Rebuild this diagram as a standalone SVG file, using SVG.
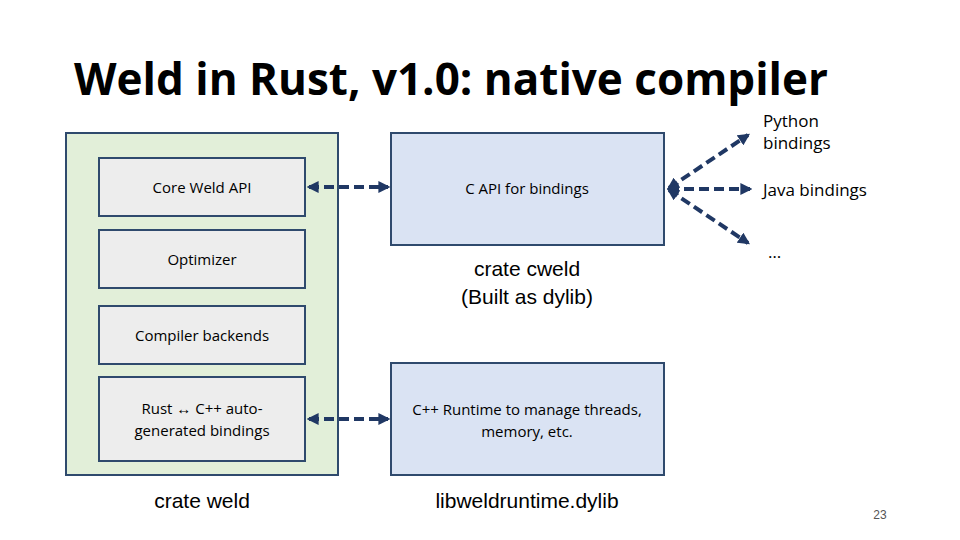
<svg xmlns="http://www.w3.org/2000/svg" width="960" height="540" viewBox="0 0 960 540">
<defs>
<style>
.g{fill:#e2efd9;stroke:#2f4a6d;stroke-width:2}
.i{fill:#ededed;stroke:#2f4a6d;stroke-width:2}
.b{fill:#dae3f3;stroke:#2f4a6d;stroke-width:2}
.t{font-family:"Open Sans","Liberation Sans",sans-serif;font-size:15px;fill:#000;text-anchor:middle}
.l{font-family:"Liberation Sans",sans-serif;font-size:21px;fill:#000;text-anchor:middle}
.c{stroke:#203864;stroke-width:4;stroke-dasharray:10,5;fill:none;marker-end:url(#a);marker-start:url(#s)}
</style>
<marker id="a" viewBox="0 0 10 10" refX="8" refY="5" markerWidth="3" markerHeight="3" orient="auto"><path d="M0,0L10,5L0,10z" fill="#203864"/></marker>
<marker id="s" viewBox="0 0 10 10" refX="2" refY="5" markerWidth="3" markerHeight="3" orient="auto"><path d="M10,0L0,5L10,10z" fill="#203864"/></marker>
</defs>
<text x="74" y="95" font-family="Open Sans,Liberation Sans,sans-serif" font-size="44" font-weight="bold" fill="#000">Weld in Rust, v1.0: native compiler</text>
<g id="weld"><rect class="g" x="66" y="133" width="272" height="342"/><text class="l" x="202" y="508">crate weld</text></g>
<g id="core"><rect class="i" x="99" y="158" width="206" height="58"/><text class="t" x="202" y="193">Core Weld API</text></g>
<g id="opt"><rect class="i" x="99" y="230" width="206" height="58"/><text class="t" x="202" y="265">Optimizer</text></g>
<g id="backends"><rect class="i" x="99" y="306" width="206" height="58"/><text class="t" x="202" y="341">Compiler backends</text></g>
<g id="bind"><rect class="i" x="99" y="377" width="206" height="84"/><text class="t" x="202" y="414">Rust ↔ C++ auto-</text><text class="t" x="202" y="436">generated bindings</text></g>
<g id="capi"><rect class="b" x="391" y="133" width="273" height="112"/><text class="t" x="527" y="194">C API for bindings</text><text class="l" x="527" y="276">crate cweld</text><text class="l" x="527" y="304">(Built as dylib)</text></g>
<g id="rt"><rect class="b" x="391" y="363" width="273" height="112"/><text class="t" x="527" y="415">C++ Runtime to manage threads,</text><text class="t" x="527" y="437">memory, etc.</text><text class="l" x="527" y="508">libweldruntime.dylib</text></g>
<g id="py"><text x="763" y="127" font-family="Open Sans,Liberation Sans,sans-serif" font-size="17">Python</text><text x="763" y="149" font-family="Open Sans,Liberation Sans,sans-serif" font-size="17">bindings</text></g>
<g id="java"><text x="763" y="196" font-family="Open Sans,Liberation Sans,sans-serif" font-size="17">Java bindings</text></g>
<g id="etc"><text x="768" y="258" font-family="Open Sans,Liberation Sans,sans-serif" font-size="17">…</text></g>
<g id="connectors">
<line class="c" x1="309" y1="187" x2="388" y2="187"/>
<line class="c" x1="309" y1="419" x2="388" y2="419"/>
<line class="c" x1="669" y1="188" x2="748" y2="135"/>
<line class="c" x1="669" y1="189" x2="750" y2="189"/>
<line class="c" x1="669" y1="190" x2="748" y2="243"/>
</g>
<text x="880" y="519" font-family="Liberation Sans,sans-serif" font-size="12" fill="#555" text-anchor="middle">23</text>
</svg>
